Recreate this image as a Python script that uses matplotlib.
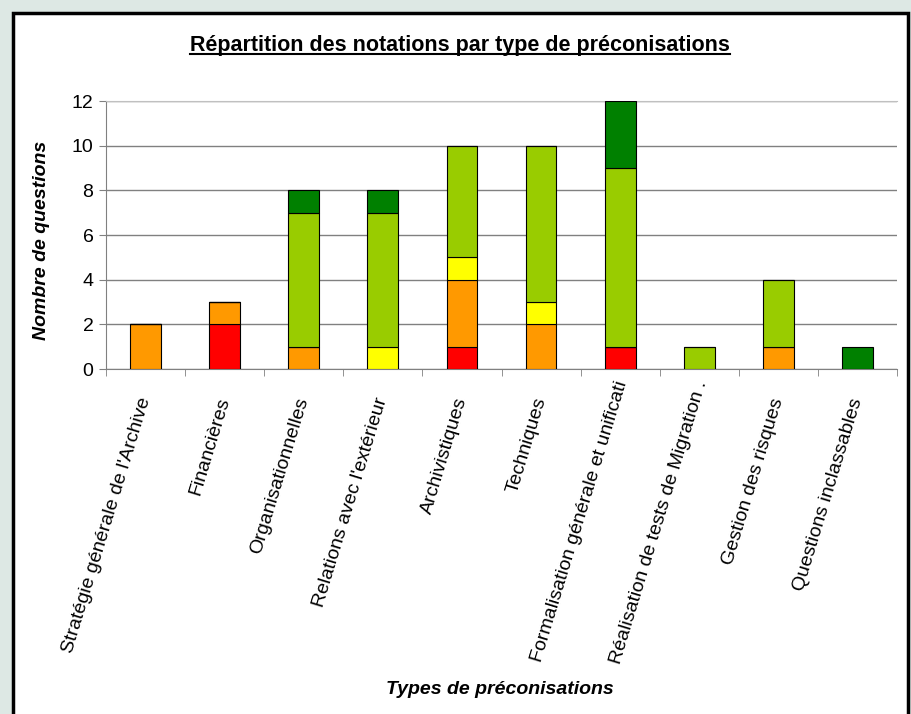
import matplotlib.pyplot as plt
import numpy as np
from matplotlib.patches import Rectangle
from matplotlib.lines import Line2D
from matplotlib.transforms import ScaledTranslation

plt.rcParams['font.family'] = ['Liberation Sans', 'DejaVu Sans']

# données
categories = ["Stratégie générale de l'Archive", "Financières", "Organisationnelles",
              "Relations avec l'extérieur", "Archivistiques", "Techniques",
              "Formalisation générale et unificati", "Réalisation de tests de Migration .",
              "Gestion des risques", "Questions inclassables"]
rouge = [0, 2, 0, 0, 1, 0, 1, 0, 0, 0]
orange = [2, 1, 1, 0, 3, 2, 0, 0, 1, 0]
jaune = [0, 0, 0, 1, 1, 1, 0, 0, 0, 0]
vert_clair = [0, 0, 6, 6, 5, 7, 8, 1, 3, 0]
vert_fonce = [0, 0, 1, 1, 0, 0, 3, 0, 0, 1]

series = [rouge, orange, jaune, vert_clair, vert_fonce]
couleurs = ['#FF0000', '#FF9900', '#FFFF00', '#99CC00', '#008000']

fig = plt.figure(figsize=(9.12, 7.14), dpi=100)
fig.patch.set_facecolor('#dde8e4')
# cadre blanc du graphique
fig.patches.append(Rectangle((13 / 912, -0.01), 895 / 912, 1 - 13 / 714 + 0.01,
                             transform=fig.transFigure, facecolor='white',
                             edgecolor='black', linewidth=2.5, zorder=-5))

ax = fig.add_axes([106 / 912, 1 - 369 / 714, 791 / 912, 268 / 714])
ax.set_facecolor('white')

x = np.arange(len(categories))
bas = np.zeros(len(categories))
for vals, c in zip(series, couleurs):
    ax.bar(x, vals, bottom=bas, width=0.39, color=c, edgecolor='black',
           linewidth=0.8, zorder=3)
    bas += np.array(vals)

ax.set_xlim(-0.5, len(categories) - 0.5)
ax.set_ylim(0, 12)
ax.set_yticks(range(0, 13, 2))
ax.yaxis.grid(True, color='#808080', linewidth=1)
ax.set_axisbelow(True)

ax.set_xticks(x)
ax.set_xticklabels(categories, rotation=73, ha='right', va='center',
                   rotation_mode='anchor', fontsize=14)
ax.set_xticks(np.arange(-0.5, len(categories)), minor=True)
ax.tick_params(axis='x', which='major', length=0, pad=21)
ax.tick_params(axis='x', which='minor', length=5, color='#808080', direction='out')
ax.tick_params(axis='y', length=5, color='#808080', labelsize=14, pad=4)

for s in ['left', 'bottom']:
    ax.spines[s].set_color('#808080')
ax.spines['top'].set_color('#c0c0c0')
ax.spines['right'].set_visible(False)

# les libellés longs sont remontés comme dans Excel
for i in (6, 7):
    lbl = ax.get_xticklabels()[i]
    lbl.set_transform(lbl.get_transform() + ScaledTranslation(2 / 72, 12 / 72, fig.dpi_scale_trans))

fig.text(42 / 912, 1 - 240 / 714, 'Nombre de questions', rotation=90, ha='center',
         va='center', fontsize=14, fontweight='bold', fontstyle='italic')
fig.text(500 / 912, 1 - 690 / 714, 'Types de préconisations', ha='center',
         va='center', fontsize=14, fontweight='bold', fontstyle='italic')

titre = fig.text(460 / 912, 1 - 45 / 714, 'Répartition des notations par type de préconisations',
                 ha='center', va='center', fontsize=15.5, fontweight='bold')
fig.canvas.draw()
bb = titre.get_window_extent().transformed(fig.transFigure.inverted())
fig.add_artist(Line2D([bb.x0, bb.x1], [bb.y0 + 0.002, bb.y0 + 0.002],
                      transform=fig.transFigure, color='black', linewidth=1.5))

fig.savefig('out.png', dpi=100)
